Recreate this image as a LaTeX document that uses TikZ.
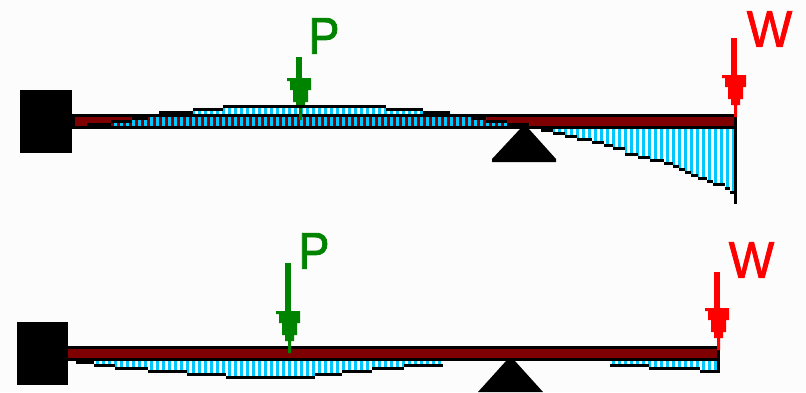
\documentclass[tikz,border=0pt]{standalone}
\usepackage{fontspec}
\setmainfont{Liberation Sans}
\newfontfamily\loadfont[FakeBold=1.6]{Liberation Sans}
\usepackage{xcolor}
\definecolor{paper}{HTML}{FCFCFC}
\definecolor{beamred}{HTML}{7F0000}
\definecolor{hatch}{HTML}{00C8FF}
\definecolor{loadp}{HTML}{008400}
\definecolor{loadw}{HTML}{FF0000}
\def\upperone{87/111/123,111/132/120,132/148/117,148/159/114,159/193/111,193/223/108,223/386/105,386/423/108,423/450/111,450/471/114,471/486/117,486/507/120,507/529/123}
\def\lowerone{541/553/129,553/565/132,565/577/135,577/592/138,592/604/141,604/613/144,613/625/147,625/638/153,638/650/156,650/664/159,664/673/162,673/679/165,679/685/168,685/691/171,691/698/174,698/707/177,707/713/180,713/725/183,725/730/187,730/734/191}
\def\lowertwo{76/94/361,94/115/364,115/148/367,148/187/370,187/226/373,226/315/376,315/342/373,342/372/370,372/404/367,404/443/364,610/649/364,649/700/367,700/720/370}
\tikzset{
	block/.style={fill=black},
	beamcore/.style={fill=beamred},
	stripe/.style={fill=hatch},
	shaft/.style={line width=6bp},
	letter/.style={font=\loadfont\fontsize{52}{52}\selectfont,inner sep=0pt},
	forcehead/.pic={
		\path[pic actions] (-3,-1) -- (3,-1) -- (3,0) -- (12,0) -- (12,12) -- (9,12) -- (9,24) -- (6,24) -- (6,30) -- (3,30)
			-- (3,42) -- (0,42) -- (0,30) -- (-3,30) -- (-3,24) -- (-6,24) -- (-6,12) -- (-9,12) -- (-9,3) -- (-12,3) -- (-12,0) -- (-3,0) -- cycle;
	}
}
\begin{document}
\begin{tikzpicture}[x=1bp,y=-1bp]
	\useasboundingbox (0,0) rectangle (806,392);
	\fill[paper] (0,0) rectangle (806,392);
	% upper beam
	\fill[beamcore] (75,117) rectangle (735,126);
	\begin{scope}
		\clip \foreach \xa/\xb/\yy in \upperone {(\xa,\yy) rectangle (\xb,126)};
		\foreach \xs in {114,120,...,528} \fill[stripe] (\xs,100) rectangle +(3,30);
	\end{scope}
	\begin{scope}
		\clip \foreach \xa/\xb/\yy in \lowerone {(\xa,129) rectangle (\xb,\yy)};
		\foreach \xs in {552,558,...,732} \fill[stripe] (\xs,125) rectangle +(3,75);
	\end{scope}
	\fill (72,114) rectangle (737,117);
	\fill (72,126) rectangle (737,129);
	\fill (72,114) rectangle (75,129);
	\fill (734,114) rectangle (737,204);
	% load on the span goes under the outline
	\coordinate (ptopa) at (299,57);
	\coordinate (ptopb) at (299,78);
	\draw[loadp,shaft] (ptopa) -- (ptopb);
	\pic[fill=loadp] at (ptopb) {forcehead};
	\foreach \xa/\xb/\yy in \upperone \fill (\xa,\yy) rectangle (\xb,\yy+3);
	\foreach \xa/\xb/\yy in \lowerone \fill (\xa,\yy) rectangle (\xb,\yy+3);
	\fill[block] (20,90) rectangle (72,153);
	\fill[block] (520,129) -- (529,129) -- (556,159) -- (556,162) -- (492,162) -- (492,159) -- cycle;
	% lower beam
	\fill[beamcore] (68,349) rectangle (717,358);
	\begin{scope}
		\clip \foreach \xa/\xb/\yy in \lowertwo {(\xa,361) rectangle (\xb,\yy)};
		\foreach \xs in {78,84,...,714} \fill[stripe] (\xs,358) rectangle +(3,20);
	\end{scope}
	\foreach \xa/\xb/\yy in \lowertwo \fill (\xa,\yy) rectangle (\xb,\yy+3);
	\fill (68,346) rectangle (720,349);
	\fill (68,358) rectangle (720,361);
	\fill (717,346) rectangle (720,373);
	\fill[block] (17,322) rectangle (68,385);
	\fill[block] (506,361) -- (515,361) -- (543,392) -- (478,392) -- cycle;
	% loads
	\coordinate (wtopa) at (734,38);
	\coordinate (wtopb) at (734,75);
	\draw[loadw,shaft] (wtopa) -- (wtopb);
	\pic[fill=loadw] at (wtopb) {forcehead};
	\coordinate (pbota) at (288,263);
	\coordinate (pbotb) at (288,311);
	\draw[loadp,shaft] (pbota) -- (pbotb);
	\pic[fill=loadp] at (pbotb) {forcehead};
	\coordinate (wbota) at (717,272);
	\coordinate (wbotb) at (717,308);
	\draw[loadw,shaft] (wbota) -- (wbotb);
	\pic[fill=loadw] at (wbotb) {forcehead};
	\node (ptop) at (324,36) [letter,text=loadp,xscale=0.9] {P};
	\node (wtop) at (769.5,29) [letter,text=loadw,xscale=0.93] {W};
	\node (pbot) at (314,251) [letter,text=loadp,xscale=0.9] {P};
	\node (wbot) at (751.5,260) [letter,text=loadw,xscale=0.93] {W};
\end{tikzpicture}
\end{document}
